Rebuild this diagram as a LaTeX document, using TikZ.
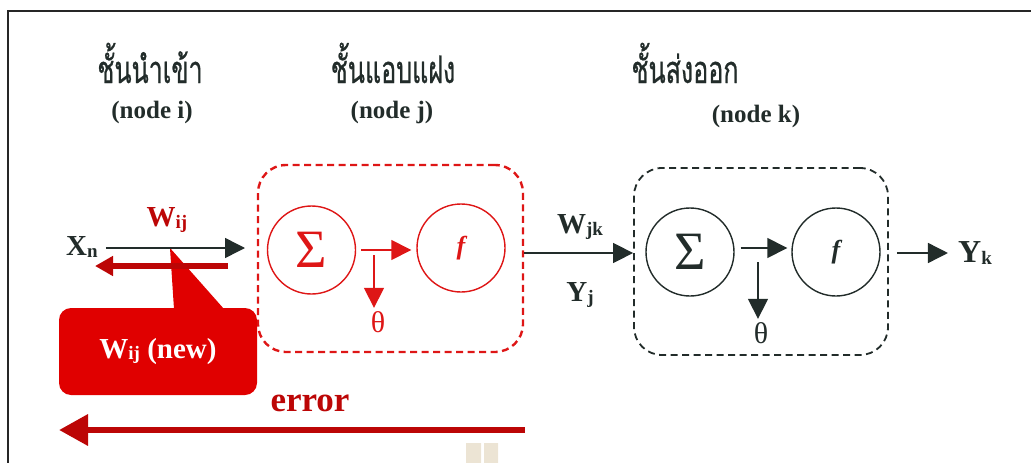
\documentclass[tikz,border=0pt]{standalone}
\usepackage{fontspec}
\setmainfont{Liberation Serif}
\newfontfamily\thaifont[Script=Thai,FakeStretch=0.66,FakeBold=0.6]{Loma}
\usetikzlibrary{arrows.meta,positioning}
\definecolor{ink}{RGB}{34,44,42}
\definecolor{hidred}{RGB}{222,22,22}
\definecolor{dkred}{RGB}{188,6,6}
\definecolor{callred}{RGB}{224,0,0}
\definecolor{sand}{RGB}{236,228,212}
\newcommand\ssub[1]{\raisebox{-1.5pt}{\fontsize{19}{19}\selectfont#1}}
\begin{document}
\begin{tikzpicture}[x=1pt,y=-1pt,
neuron/.style={circle,draw,line width=1.4pt,minimum size=88pt,inner sep=0pt,font=\fontsize{54}{54}\selectfont},
layer/.style={draw,rounded corners=28pt,dash pattern=on 7pt off 4.5pt,minimum width=#1,minimum height=187pt},
hd/.style={font=\thaifont\fontsize{38}{42}\selectfont,text=ink,inner sep=0pt,anchor=base,text depth=0pt},
tag/.style={font=\bfseries\fontsize{25}{30}\selectfont,text=ink,inner sep=0pt},
sym/.style={font=\bfseries\fontsize{29}{32}\selectfont,text=ink,inner sep=0pt},
fwd/.style={line width=1.5pt,-{Triangle[length=20pt,width=20pt]}},
back/.style={line width=6pt,dkred,-{Triangle[length=18pt,width=19pt]}}]
\useasboundingbox(0,0)rectangle(1031,463);
\draw[line width=2pt,black!85](8,463)--(8,11)--(1031,11);
\node[hd](hdI)at(150,83){ชั้นนำเข้า};
\node[hd](hdJ)at(393,83){ชั้นแอบแฝง};
\node[hd](hdK)at(685,83){ชั้นส่งออก};
\node[tag](tgI)at(152,112){(node i)};
\node[tag](tgJ)at(392,112){(node j)};
\node[tag](tgK)at(756,116){(node k)};
\node[layer=265pt,hidred,line width=2.4pt](boxJ)at(390.5,258.5){};
\node[layer=254pt,ink,line width=1.8pt](boxK)at(761,261.5){};
\node[neuron,hidred](sumJ)at(311.5,250){Σ};
\node[neuron,hidred,font=\bfseries\itshape\fontsize{26}{26}\selectfont](actJ)at(461,248){f};
\node[neuron,ink](sumK)at(690,252){Σ};
\node[neuron,ink,font=\bfseries\itshape\fontsize{26}{26}\selectfont](actK)at(836,252){f};
\node[font=\fontsize{30}{30}\selectfont,text=hidred](thJ)at(378,322){θ};
\node[font=\fontsize{30}{30}\selectfont,text=ink](thK)at(761,333){θ};
\coordinate(tapJ)at(374,255);
\coordinate(tapK)at(758,262);
\draw[fwd,hidred]([xshift=5pt]sumJ.east)--([xshift=-5pt]sumJ.east-|actJ.west);
\draw[fwd,hidred](tapJ)--(tapJ|-thJ.north);
\draw[fwd,ink]([xshift=6pt,yshift=4pt]sumK.east)--([xshift=-4pt,yshift=4pt]sumK.east-|actK.west);
\draw[fwd,ink](tapK)--(tapK|-thK.north);
\node[sym](xn)at(82,247){X\ssub{n}};
\node[sym,text=dkred](wij)at(167,220){W\ssub{ij}};
\coordinate(inJ)at(245,248);
\node[fill=callred,rounded corners=12pt,minimum width=198pt,minimum height=87pt,inner sep=0pt,text=white,font=\bfseries\fontsize{29}{32}\selectfont](wnew)at(158,351.5){W\ssub{ij} (new)};
\fill[callred](170,248)--(224,309)--(174,309)--cycle;
\draw[fwd,ink,shorten <=8pt](xn.east|-inJ)--(inJ);
\coordinate(bkS)at(228,266);
\coordinate(bkE)at(95,266);
\draw[back](bkS)--(bkE);
\coordinate(lnk)at(580,253);
\node[sym](wjk)at(580,227){W\ssub{jk}};
\node[sym](yj)at(580,295){Y\ssub{j}};
\draw[fwd,ink](boxJ.east|-lnk)--(boxK.west|-lnk);
\node[sym,font=\bfseries\fontsize{32}{34}\selectfont](yk)at(975,253){Y\ssub{k}};
\draw[fwd,ink,shorten <=8pt,shorten >=10pt](boxK.east|-lnk)--(yk.west|-lnk);
\node[font=\bfseries\fontsize{35}{40}\selectfont,text=dkred](err)at(310,403){error};
\coordinate(erS)at(525,430);
\coordinate(erE)at(59,430);
\draw[back,line width=6.5pt,-{Triangle[length=29pt,width=30pt]}](erS)--(erE);
\fill[sand](466,443)rectangle(481,463)(484,443)rectangle(498,463);
\end{tikzpicture}
\end{document}
